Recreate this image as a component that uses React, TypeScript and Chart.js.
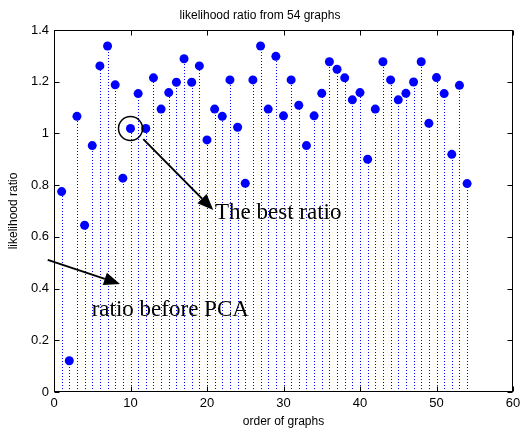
import { useEffect, useRef } from "react";
import { Chart, registerables } from "chart.js";

Chart.register(...registerables);

const graphOrder = Array.from({ length: 54 }, (_, i) => i + 1);
const ratios = [
  0.775, 0.121, 1.066, 0.645, 0.953, 1.261, 1.338, 1.188, 0.827, 1.019,
  1.154, 1.019, 1.215, 1.094, 1.158, 1.198, 1.289, 1.198, 1.261, 0.975,
  1.094, 1.066, 1.207, 1.024, 0.807, 1.207, 1.338, 1.094, 1.298, 1.068,
  1.207, 1.109, 0.953, 1.068, 1.155, 1.277, 1.248, 1.215, 1.13, 1.158,
  0.9, 1.094, 1.277, 1.207, 1.13, 1.155, 1.199, 1.277, 1.039, 1.216,
  1.154, 0.919, 1.186, 0.806,
];
const xTickValues = [0, 10, 20, 30, 40, 50, 60];
const yTickValues = [0, 0.2, 0.4, 0.6, 0.8, 1, 1.2, 1.4];

const titleText = "likelihood ratio from 54 graphs";
const xLabel = "order of graphs";
const yLabel = "likelihood ratio";
const noteTexts = ["The best ratio", "ratio before PCA"];
const bestIndex = 9;

const SANS = '"Liberation Sans", Arial, sans-serif';
const SERIF = '"Liberation Serif", "Times New Roman", serif';

const stemPlugin = {
  id: "stems",
  beforeDatasetsDraw(chart: any) {
    const { ctx, scales } = chart;
    const x = scales.x;
    const y = scales.y;
    const y0 = Math.round(y.getPixelForValue(0));
    ctx.save();
    ctx.strokeStyle = "#0000ff";
    ctx.lineWidth = 1;
    ctx.setLineDash([1, 2]);
    graphOrder.forEach((g, i) => {
      const px = Math.round(x.getPixelForValue(g)) + 0.5;
      const py = y.getPixelForValue(ratios[i]);
      ctx.beginPath();
      ctx.moveTo(px, y0);
      ctx.lineTo(px, py);
      ctx.stroke();
    });
    ctx.restore();
  },
};

function drawArrow(ctx: any, x1: number, y1: number, x2: number, y2: number) {
  const ang = Math.atan2(y2 - y1, x2 - x1);
  const headLen = 16;
  const headW = 6.5;
  const bx = x2 - headLen * Math.cos(ang);
  const by = y2 - headLen * Math.sin(ang);
  ctx.beginPath();
  ctx.moveTo(x1, y1);
  ctx.lineTo(bx, by);
  ctx.stroke();
  ctx.beginPath();
  ctx.moveTo(x2, y2);
  ctx.lineTo(bx + headW * Math.sin(ang), by - headW * Math.cos(ang));
  ctx.lineTo(bx - headW * Math.sin(ang), by + headW * Math.cos(ang));
  ctx.closePath();
  ctx.fill();
}

const annotationPlugin = {
  id: "notes",
  afterDatasetsDraw(chart: any) {
    const { ctx, scales } = chart;
    const X = (v: number) => scales.x.getPixelForValue(v);
    const Y = (v: number) => scales.y.getPixelForValue(v);
    ctx.save();
    ctx.strokeStyle = "#000";
    ctx.fillStyle = "#000";
    ctx.lineWidth = 1.5;
    ctx.beginPath();
    ctx.arc(X(graphOrder[bestIndex]), Y(ratios[bestIndex]), 12, 0, Math.PI * 2);
    ctx.stroke();
    ctx.lineWidth = 2;
    drawArrow(ctx, X(11.67), Y(0.978), X(20.82), Y(0.704));
    drawArrow(ctx, X(-0.82), Y(0.511), X(8.63), Y(0.418));
    ctx.font = "23px " + SERIF;
    ctx.textAlign = "left";
    ctx.textBaseline = "alphabetic";
    ctx.fillText(noteTexts[0], X(21.05), Y(0.669));
    ctx.fillText(noteTexts[1], X(4.93), Y(0.294));
    ctx.restore();
  },
};

const framePlugin = {
  id: "frame",
  afterDraw(chart: any) {
    const { ctx, chartArea, scales } = chart;
    const { left, right, top, bottom } = chartArea;
    ctx.save();
    ctx.strokeStyle = "#000";
    ctx.lineWidth = 1;
    ctx.setLineDash([]);
    const L = Math.round(left) + 0.5;
    const R = Math.round(right) - 0.5;
    const T = Math.round(top) + 0.5;
    const B = Math.round(bottom) - 0.5;
    ctx.strokeRect(L, T, R - L, B - T);
    const tl = 5;
    ctx.beginPath();
    xTickValues.forEach((v) => {
      const px = Math.round(scales.x.getPixelForValue(v)) + 0.5;
      ctx.moveTo(px, B);
      ctx.lineTo(px, B - tl);
      ctx.moveTo(px, T);
      ctx.lineTo(px, T + tl);
    });
    yTickValues.forEach((v) => {
      const py = Math.round(scales.y.getPixelForValue(v)) + 0.5;
      ctx.moveTo(L, py);
      ctx.lineTo(L + tl, py);
      ctx.moveTo(R, py);
      ctx.lineTo(R - tl, py);
    });
    ctx.stroke();
    ctx.restore();
  },
};

export default function App() {
  const canvasRef = useRef<HTMLCanvasElement | null>(null);

  useEffect(() => {
    if (!canvasRef.current) return;
    const chart = new Chart(canvasRef.current, {
      type: "scatter",
      data: {
        datasets: [
          {
            data: graphOrder.map((g, i) => ({ x: g, y: ratios[i] })),
            backgroundColor: "#0000ff",
            borderColor: "#0000ff",
            borderWidth: 0,
            pointRadius: 4.5,
            pointHoverRadius: 4.5,
          },
        ],
      },
      options: {
        animation: false,
        responsive: false,
        events: [],
        layout: { padding: { left: 0, right: 0, top: 0, bottom: 0 } },
        plugins: {
          legend: { display: false },
          tooltip: { enabled: false },
          title: {
            display: true,
            text: titleText,
            color: "#000",
            font: { family: SANS, size: 12, weight: "normal" },
            padding: { top: 8, bottom: 7.6 },
          },
        },
        scales: {
          x: {
            type: "linear",
            min: 0,
            max: 60,
            afterBuildTicks: (s: any) => {
              s.ticks = xTickValues.map((v) => ({ value: v }));
            },
            afterFit: (s: any) => {
              s.height = 40;
              s.paddingLeft = 0;
              s.paddingRight = 7;
            },
            ticks: {
              color: "#000",
              font: { family: SANS, size: 13 },
              padding: 4,
              maxRotation: 0,
              callback: (v: any) => String(v),
            },
            grid: { display: false, drawTicks: false },
            border: { display: false },
            title: {
              display: true,
              text: xLabel,
              color: "#000",
              font: { family: SANS, size: 12 },
              padding: { top: 0, bottom: 3 },
            },
          },
          y: {
            min: 0,
            max: 1.4,
            afterBuildTicks: (s: any) => {
              s.ticks = yTickValues.map((v) => ({ value: v }));
            },
            afterFit: (s: any) => {
              s.width = 54;
              s.paddingTop = 0;
              s.paddingBottom = 0;
            },
            ticks: {
              color: "#000",
              font: { family: SANS, size: 13 },
              padding: 5,
              callback: (v: any) => String(Math.round(Number(v) * 10) / 10),
            },
            grid: { display: false, drawTicks: false },
            border: { display: false },
            title: {
              display: true,
              text: yLabel,
              color: "#000",
              font: { family: SANS, size: 12 },
              padding: { top: 6, bottom: 0 },
            },
          },
        },
      },
      plugins: [stemPlugin, annotationPlugin, framePlugin],
    } as any);
    return () => chart.destroy();
  }, []);

  return (
    <div style={{ position: "absolute", left: 0, top: 0, width: 520, height: 432, background: "#fff" }}>
      <canvas ref={canvasRef} width={520} height={432} style={{ display: "block" }} />
    </div>
  );
}
